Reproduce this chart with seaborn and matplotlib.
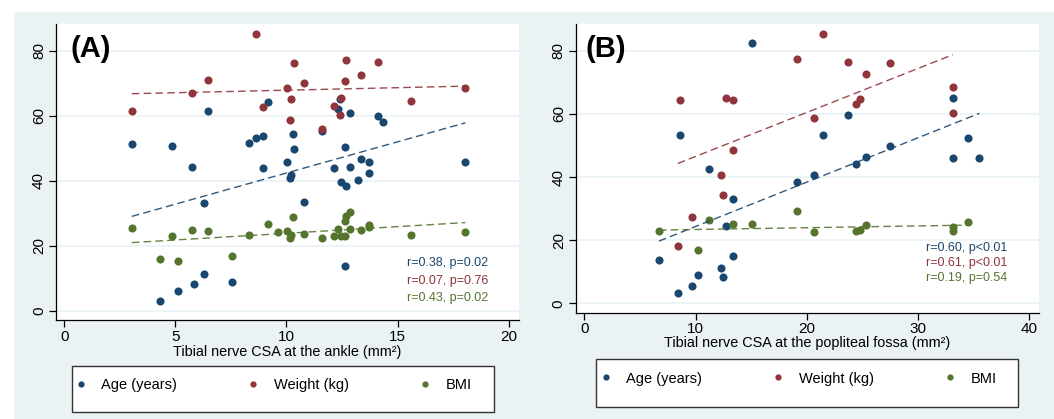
import seaborn as sns
import matplotlib.pyplot as plt
import pandas as pd
from matplotlib.lines import Line2D
from matplotlib.patches import Rectangle

# Panel A: tibial nerve CSA at the ankle (mm2)
ankle_age_x = [3.04, 4.33, 4.87, 5.10, 5.73, 5.83, 6.31, 6.31, 6.46, 7.53, 8.33, 8.62, 8.93, 8.93,
               9.17, 10.04, 10.14, 10.22, 10.30, 10.34, 10.80, 11.59, 12.12, 12.32, 12.40, 12.44,
               12.64, 12.64, 12.70, 12.84, 12.84, 13.23, 13.35, 13.73, 13.73, 14.13, 14.33, 18.05]
ankle_age_y = [51.3, 3.1, 50.7, 6.0, 44.3, 8.3, 11.4, 33.1, 61.4, 8.8, 51.5, 53.3, 53.8, 44.0,
               64.2, 45.9, 40.8, 41.8, 54.3, 49.8, 33.4, 55.3, 44.0, 62.2, 65.0, 39.6,
               50.5, 13.9, 38.4, 60.8, 44.1, 40.1, 46.6, 45.9, 42.4, 59.8, 58.1, 45.9]
ankle_weight_x = [3.04, 5.73, 6.46, 8.62, 8.93, 10.04, 10.14, 10.22, 10.34, 10.80,
                  11.59, 12.12, 12.40, 12.44, 12.64, 12.70, 13.35, 14.13, 15.59, 18.05]
ankle_weight_y = [61.6, 66.9, 70.9, 85.2, 62.7, 68.4, 58.6, 65.2, 76.1, 70.2,
                  55.9, 62.9, 60.3, 65.4, 70.6, 77.2, 72.6, 76.4, 64.4, 68.5]
ankle_bmi_x = [3.04, 4.33, 4.87, 5.10, 5.73, 6.46, 7.53, 8.33, 9.17, 9.63, 10.04, 10.14, 10.22,
               10.30, 10.80, 11.59, 12.12, 12.32, 12.44, 12.64, 12.64, 12.70, 12.84, 12.84,
               13.35, 13.73, 13.73, 15.59, 18.05]
ankle_bmi_y = [25.5, 16.0, 23.1, 15.3, 25.0, 24.6, 17.0, 23.4, 26.7, 24.3, 24.5, 22.4, 23.4,
               28.9, 23.8, 22.4, 22.9, 25.1, 22.9, 22.9, 27.6, 29.2, 30.3, 25.3,
               24.9, 25.8, 26.3, 23.4, 24.3]
ankle_stats = ['r=0.38, p=0.02', 'r=0.07, p=0.76', 'r=0.43, p=0.02']

# Panel B: tibial nerve CSA at the popliteal fossa (mm2)
fossa_age_x = [6.70, 8.40, 8.61, 9.70, 10.22, 11.19, 12.28, 12.46, 12.71, 13.40, 13.40, 15.10,
               19.07, 20.68, 21.47, 23.68, 24.38, 25.35, 27.48, 33.12, 33.12, 34.45, 35.51]
fossa_age_y = [13.8, 3.3, 53.3, 5.6, 8.9, 42.5, 11.3, 8.4, 24.6, 33.2, 14.9, 82.4,
               38.4, 40.8, 53.3, 59.8, 44.0, 46.5, 49.8, 65.2, 46.0, 52.5, 46.0]
fossa_weight_x = [8.40, 8.61, 9.70, 12.28, 12.46, 12.71, 13.40, 13.40, 19.07, 20.68, 21.47,
                  23.68, 24.38, 24.75, 25.35, 27.48, 33.12, 33.12]
fossa_weight_y = [18.2, 64.4, 27.5, 40.6, 34.4, 65.0, 64.3, 48.5, 77.4, 58.7, 85.4,
                  76.5, 63.0, 64.6, 72.7, 76.2, 68.6, 60.4]
fossa_bmi_x = [6.70, 10.22, 11.19, 13.40, 15.10, 19.07, 20.68, 24.38, 24.75, 25.35, 33.12, 33.12, 34.45]
fossa_bmi_y = [22.9, 17.0, 26.3, 25.0, 25.0, 29.3, 22.5, 22.9, 23.2, 24.8, 24.3, 22.9, 25.9]
fossa_stats = ['r=0.60, p<0.01', 'r=0.61, p<0.01', 'r=0.19, p=0.54']

series_names = ['Age (years)', 'Weight (kg)', 'BMI']
colors = ['#1A476F', '#90353B', '#55752F']
bg = '#EAF2F3'

sns.set_theme(style='ticks')
plt.rcParams['font.family'] = ['Liberation Sans', 'DejaVu Sans']

fig = plt.figure(figsize=(10.54, 4.19), dpi=100)
fig.patch.set_facecolor(bg)
# white strips at the top and left edge of the image
fig.patches.append(Rectangle((0, 0.9737), 1, 0.03, transform=fig.transFigure, color='white', zorder=-1))
fig.patches.append(Rectangle((0, 0), 0.0128, 1, transform=fig.transFigure, color='white', zorder=-1))

ax_a = fig.add_axes([0.0529, 0.2363, 0.4395, 0.7057])
ax_b = fig.add_axes([0.5461, 0.2537, 0.4392, 0.6883])


def draw_panel(ax, xs, ys, stats, letter, xlabel, xlim, ylim, xticks, letter_x, stat_y, label_y):
    for x, y, c in zip(xs, ys, colors):
        df = pd.DataFrame({'x': x, 'y': y})
        sns.scatterplot(data=df, x='x', y='y', color=c, s=34, linewidth=0, ax=ax, zorder=3)
    for x, y, c in zip(xs, ys, colors):
        df = pd.DataFrame({'x': x, 'y': y})
        sns.regplot(data=df, x='x', y='y', ci=None, scatter=False, ax=ax, color=c,
                    line_kws={'lw': 1.0, 'ls': (0, (5.5, 3)), 'alpha': 0.9, 'zorder': 4})

    ax.set_xlim(*xlim)
    ax.set_ylim(*ylim)
    ax.set_xticks(xticks)
    ax.set_yticks([0, 20, 40, 60, 80])
    ax.set_facecolor('white')
    ax.yaxis.grid(True, color=bg, lw=1.2)
    ax.set_axisbelow(True)
    sns.despine(ax=ax)
    for s in ['left', 'bottom']:
        ax.spines[s].set_color('black')
        ax.spines[s].set_linewidth(0.9)
    ax.tick_params(axis='both', direction='out', length=5, width=0.9, color='black',
                   labelsize=11, pad=2, labelcolor='black')
    ax.tick_params(axis='y', labelrotation=90)
    for lab in ax.get_yticklabels():
        lab.set_va('center')
    ax.set_ylabel('')
    ax.set_xlabel(xlabel, fontsize=10.4, color='black')
    ax.xaxis.set_label_coords(0.5, label_y)
    ax.xaxis.label.set_va('center')

    ax.text(letter_x, 0.915, letter, transform=ax.transAxes, fontsize=21, fontweight='bold',
            ha='left', va='center', color='black')
    for txt, c, yy in zip(stats, colors, stat_y):
        ax.text(0.933, yy, txt, transform=ax.transAxes, fontsize=9, color=c, ha='right', va='center')


draw_panel(ax_a, [ankle_age_x, ankle_weight_x, ankle_bmi_x], [ankle_age_y, ankle_weight_y, ankle_bmi_y],
           ankle_stats, '(A)', 'Tibial nerve CSA at the ankle (mm²)', (-0.38, 20.46), (-2.77, 88.1),
           [0, 5, 10, 15, 20], 0.031, [0.193, 0.132, 0.074], -0.107)
draw_panel(ax_b, [fossa_age_x, fossa_weight_x, fossa_bmi_x], [fossa_age_y, fossa_weight_y, fossa_bmi_y],
           fossa_stats, '(B)', 'Tibial nerve CSA at the popliteal fossa (mm²)', (-0.79, 40.82), (-2.98, 88.4),
           [0, 10, 20, 30, 40], 0.022, [0.225, 0.173, 0.121], -0.106)

# legend boxes below each panel
W, H = 1054, 419
handles = [Line2D([], [], marker='o', ls='none', color=c, markersize=4.5, markeredgewidth=0) for c in colors]
for box, content, cy in [((72, 366, 494, 412), (77, 472), 385), ((596, 359, 1018, 407), (602, 997), 378.5)]:
    x0, y0, x1, y1 = box
    fig.patches.append(Rectangle((x0 / W, 1 - y1 / H), (x1 - x0) / W, (y1 - y0) / H,
                                 transform=fig.transFigure, facecolor='white', edgecolor='#333333', lw=1))
    c0, c1 = content
    fig.legend(handles, series_names, ncol=3, mode='expand', frameon=False, loc='center',
               bbox_to_anchor=(c0 / W, 1 - (cy + 10) / H, (c1 - c0) / W, 20 / H),
               bbox_transform=fig.transFigure, borderpad=0, borderaxespad=0,
               handlelength=0.5, handletextpad=1.15, fontsize=10.5, labelcolor='black')

fig.savefig('out.png', dpi=100, facecolor=fig.get_facecolor())
